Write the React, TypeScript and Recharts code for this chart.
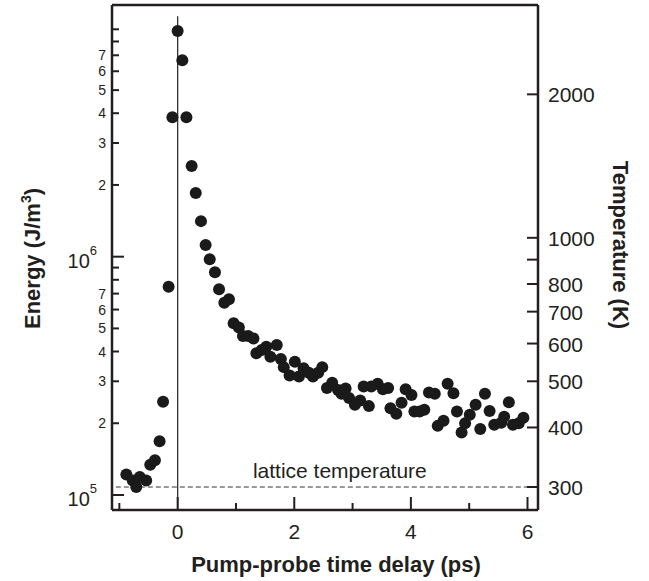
import { ScatterChart, Scatter, XAxis, YAxis, ReferenceLine, Label } from 'recharts';

// measured points: pump-probe delay (ps) and electron energy density (J/m^3)
const TIME_PS = [
  -0.88, -0.77, -0.71, -0.65, -0.54, -0.47, -0.39, -0.31, -0.25, -0.155,
  -0.09, 0.0, 0.08, 0.15, 0.24, 0.31, 0.40, 0.48, 0.55, 0.64,
  0.71, 0.80, 0.88, 0.96, 1.05, 1.12, 1.21, 1.30, 1.35, 1.44,
  1.52, 1.59, 1.70, 1.77, 1.82, 1.92, 2.01, 2.08, 2.16, 2.25,
  2.32, 2.41, 2.48, 2.56, 2.65, 2.75, 2.81, 2.88, 2.94, 3.04,
  3.13, 3.19, 3.28, 3.32, 3.43, 3.52, 3.61, 3.65, 3.75, 3.84,
  3.91, 4.01, 4.06, 4.15, 4.23, 4.31, 4.41, 4.46, 4.56, 4.63,
  4.73, 4.79, 4.87, 4.93, 5.01, 5.11, 5.19, 5.27, 5.35, 5.43,
  5.55, 5.60, 5.68, 5.75, 5.85, 5.93,
];
const ENERGY = [
  1.22e5, 1.15e5, 1.08e5, 1.19e5, 1.15e5, 1.34e5, 1.40e5, 1.68e5, 2.46e5, 7.48e5,
  3.85e6, 8.85e6, 6.68e6, 3.85e6, 2.40e6, 1.85e6, 1.41e6, 1.12e6, 9.75e5, 8.6e5,
  7.3e5, 6.41e5, 6.63e5, 5.26e5, 5.04e5, 4.65e5, 4.65e5, 4.54e5, 3.93e5, 4.06e5,
  4.19e5, 3.80e5, 4.26e5, 3.72e5, 3.44e5, 3.17e5, 3.62e5, 3.14e5, 3.40e5, 3.26e5,
  3.14e5, 3.26e5, 3.44e5, 2.81e5, 2.96e5, 2.76e5, 2.66e5, 2.80e5, 2.55e5, 2.39e5,
  2.49e5, 2.85e5, 2.36e5, 2.85e5, 2.93e5, 2.78e5, 2.81e5, 2.31e5, 2.19e5, 2.44e5,
  2.78e5, 2.63e5, 2.24e5, 2.24e5, 2.28e5, 2.69e5, 2.66e5, 1.95e5, 2.05e5, 2.93e5,
  2.67e5, 2.24e5, 1.83e5, 2.00e5, 2.17e5, 2.39e5, 1.89e5, 2.66e5, 2.25e5, 1.97e5,
  2.01e5, 2.13e5, 2.45e5, 1.97e5, 2.00e5, 2.11e5,
];

const TIME_TICKS = [-1, 0, 1, 2, 3, 4, 5, 6];
const TIME_TICK_LABELS = ['', '0', '', '2', '', '4', '', '6'];
const ENERGY_TICKS = [
  1e5, 2e5, 3e5, 4e5, 5e5, 6e5, 7e5, 8e5, 9e5,
  1e6, 2e6, 3e6, 4e6, 5e6, 6e6, 7e6, 8e6, 9e6,
];
const ENERGY_TICK_LABELS = [
  '10^5', '2', '3', '4', '5', '6', '7', '', '',
  '10^6', '2', '3', '4', '5', '6', '7', '', '',
];
const TEMP_TICKS = [300, 400, 500, 600, 700, 800, 900, 1000, 2000];
const TEMP_TICK_LABELS = ['300', '400', '500', '600', '700', '800', '', '1000', '2000'];

const LATTICE_T = 300;
const GAMMA = 1.2; // E = GAMMA * T^2, ties the two y axes together
const E_DOMAIN = [86500, 11380000];
const T_DOMAIN = E_DOMAIN.map(e => Math.sqrt(e / GAMMA));
const X_DOMAIN = [-1.126, 6.18];

const INK = '#231f20';
const FONT = 'Liberation Sans, Arial, Helvetica, sans-serif';

const points = TIME_PS.map((t, i) => ({ t, energy: ENERGY[i] }));
const latticeE = GAMMA * LATTICE_T * LATTICE_T;

function EnergyTick({ x, y, index }: any) {
  const label = ENERGY_TICK_LABELS[index] ?? '';
  const major = label.startsWith('10^');
  return (
    <g>
      <line x1={x} x2={x + (major ? 12 : 7)} y1={y} y2={y} stroke={INK} strokeWidth={2} />
      {major ? (
        <text x={x - 15} y={y + 11} textAnchor="end" fontSize={20} fill={INK}>
          10<tspan dy={-13} fontSize={13}>{label.split('^')[1]}</tspan>
        </text>
      ) : label ? (
        <text x={x - 6} y={y + 5} textAnchor="end" fontSize={14} fill={INK}>{label}</text>
      ) : null}
    </g>
  );
}

function TempTick({ x, y, index }: any) {
  const label = TEMP_TICK_LABELS[index] ?? '';
  return (
    <g>
      <line x1={x} x2={x - 11} y1={y} y2={y} stroke={INK} strokeWidth={2} />
      {label && <text x={x + 10} y={y + 8} fontSize={21} fill={INK}>{label}</text>}
    </g>
  );
}

function TimeTick({ x, y, index }: any) {
  const label = TIME_TICK_LABELS[index] ?? '';
  return (
    <g>
      <line x1={x} x2={x} y1={y} y2={y - (label ? 13 : 7)} stroke={INK} strokeWidth={2} />
      {label && <text x={x} y={y + 29} textAnchor="middle" fontSize={21} fill={INK}>{label}</text>}
    </g>
  );
}

export default function App() {
  return (
    <div style={{ position: 'absolute', left: 0, top: 0, background: '#fff' }}>
      <ScatterChart width={649} height={581} margin={{ top: 5, right: 0, bottom: 0, left: 0 }} style={{ fontFamily: FONT }}>
        <XAxis dataKey="t" type="number" domain={X_DOMAIN} allowDataOverflow ticks={TIME_TICKS}
          height={71} tickSize={0} tickMargin={0} tickLine={false} tick={<TimeTick />}
          axisLine={{ stroke: INK, strokeWidth: 2.5 }}>
          <Label content={(p: any) => {
            const vb = p.viewBox ?? { x: 112, y: 510, width: 426 };
            return (
              <text x={vb.x + vb.width / 2 + 11} y={vb.y + 62} textAnchor="middle" fontSize={22} fontWeight="bold" fill={INK}>
                Pump-probe time delay (ps)
              </text>
            );
          }} />
        </XAxis>
        <YAxis yAxisId="e" dataKey="energy" type="number" scale="log" domain={E_DOMAIN} allowDataOverflow
          ticks={ENERGY_TICKS} interval={0} width={112} tickSize={0} tickMargin={0} tickLine={false}
          tick={<EnergyTick />} axisLine={{ stroke: INK, strokeWidth: 2.5 }}>
          <Label content={(p: any) => {
            const vb = p.viewBox ?? { x: 0, y: 5, height: 505 };
            const cx = vb.x + 40;
            const cy = vb.y + vb.height / 2 + 1;
            return (
              <text x={cx} y={cy} transform={`rotate(-90, ${cx}, ${cy})`} textAnchor="middle" fontSize={22} fontWeight="bold" fill={INK}>
                Energy (J/m<tspan dy={-9} fontSize={14}>3</tspan><tspan dy={9}>)</tspan>
              </text>
            );
          }} />
        </YAxis>
        <YAxis yAxisId="T" orientation="right" type="number" scale="log" domain={T_DOMAIN} allowDataOverflow
          ticks={TEMP_TICKS} interval={0} width={111} tickSize={0} tickMargin={0} tickLine={false}
          tick={<TempTick />} axisLine={{ stroke: INK, strokeWidth: 2.5 }}>
          <Label content={(p: any) => {
            const vb = p.viewBox ?? { x: 538, y: 5, height: 505 };
            const cx = vb.x + 75;
            const cy = vb.y + 240;
            return (
              <text x={cx} y={cy} transform={`rotate(90, ${cx}, ${cy})`} textAnchor="middle" fontSize={22} fontWeight="bold" fill={INK}>
                Temperature (K)
              </text>
            );
          }} />
        </YAxis>
        <ReferenceLine yAxisId="e" y={E_DOMAIN[1]} stroke={INK} strokeWidth={2.5} />
        <ReferenceLine yAxisId="e" segment={[{ x: 0, y: 1.02e7 }, { x: 0, y: E_DOMAIN[0] }]} stroke="#333" strokeWidth={1.3} />
        <ReferenceLine yAxisId="e" segment={[{ x: -1.06, y: latticeE }, { x: 6.04, y: latticeE }]}
          stroke="#333" strokeWidth={1} strokeDasharray="5 3">
          <Label content={(p: any) => {
            const vb = p.viewBox ?? { x: 116, y: 487, width: 414 };
            return (
              <text x={vb.x + vb.width / 2 + 17} y={vb.y - 9} textAnchor="middle" fontSize={21} fill={INK}>
                lattice temperature
              </text>
            );
          }} />
        </ReferenceLine>
        <Scatter yAxisId="e" data={points} fill="#1a1a1a" isAnimationActive={false}
          shape={(p: any) => <circle cx={p.cx} cy={p.cy} r={6} fill="#1a1a1a" />} />
      </ScatterChart>
    </div>
  );
}
